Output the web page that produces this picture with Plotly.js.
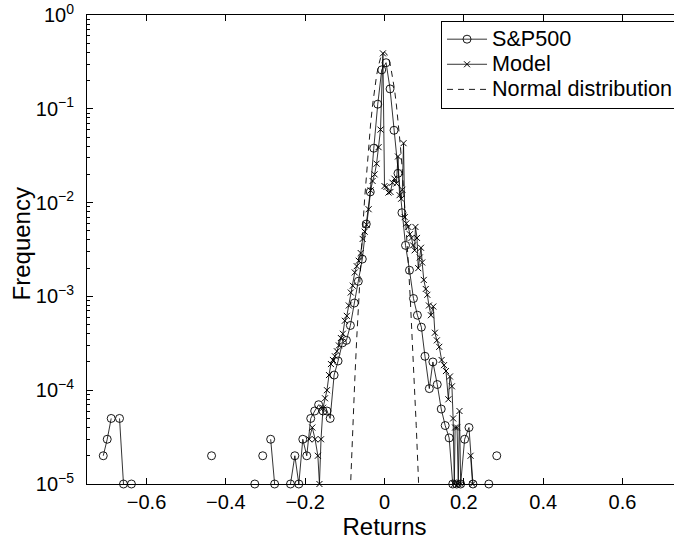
<!DOCTYPE html>
<html>
<head>
<meta charset="utf-8">
<script src="https://cdn.plot.ly/plotly-3.0.1.min.js"></script>
<style>
html,body{margin:0;padding:0;overflow:hidden;width:674px;height:540px;background:#fff;}
#chart{width:700px;height:540px;}
</style>
</head>
<body>
<div id="chart"></div>
<script>
// S&P500 empirical return frequencies (null = empty bin, breaks the line on log axis)
const spX = [-0.709, -0.699, -0.689, null, -0.668, -0.658, null, -0.638, null, -0.436, null, -0.327, null, -0.307, null, -0.287, -0.277, null,
  -0.237, -0.226, -0.216, -0.206, -0.196, -0.186, -0.176, -0.166, -0.155, -0.145, -0.137, -0.127, -0.117, -0.106, -0.096, -0.086, -0.076,
  -0.066, -0.056, -0.046, -0.036, -0.027, -0.017, -0.007, 0.004, 0.014, 0.024, 0.034, 0.044, 0.053, 0.063, 0.073, 0.083, 0.093, 0.102,
  0.113, 0.122, 0.133, 0.143, 0.153, 0.163, 0.172, 0.182, 0.192, 0.202, 0.213, 0.223, null, 0.263, null, 0.283];
const spY = [2e-5, 3e-5, 5e-5, null, 5e-5, 1e-5, null, 1e-5, null, 2e-5, null, 1e-5, null, 2e-5, null, 3e-5, 1e-5, null,
  1e-5, 2e-5, 1e-5, 3e-5, 2e-5, 5e-5, 6e-5, 7e-5, 6e-5, 6e-5, 5e-5, 1.45e-4, 2.05e-4, 3.2e-4, 3.4e-4, 4.9e-4, 8.5e-4,
  1.45e-3, 2.5e-3, 5.9e-3, 0.013, 0.038, 0.112, 0.26, 0.31, 0.163, 0.059, 0.0205, 7.8e-3, 3.5e-3, 1.9e-3, 9.5e-4, 6.3e-4, 4.7e-4, 2.3e-4,
  1.04e-4, 2.0e-4, 1.15e-4, 6.3e-5, 4.2e-5, 3.1e-5, 1e-5, 1e-5, 1e-5, 3e-5, 4e-5, 1e-5, null, 1e-5, null, 2e-5];

// Model frequencies
const modelX = [-0.190, -0.182, -0.175, -0.168, -0.164, -0.160, -0.155, -0.150, -0.145, -0.140, -0.135, -0.130, -0.125, -0.120, -0.115,
  -0.110, -0.105, -0.100, -0.095, -0.090, -0.085, -0.080, -0.075, -0.070, -0.065, -0.060, -0.055, -0.050, -0.045, -0.040, -0.035,
  -0.030, -0.025, -0.020, -0.015, -0.010, -0.004, 0.000, 0.005, 0.010, 0.015, 0.020, 0.025, 0.030, 0.034, 0.038, 0.042, 0.045, 0.048,
  0.051, 0.055, 0.060, 0.064, 0.068, 0.072, 0.076, 0.078, 0.082, 0.085, 0.089, 0.092, 0.095, 0.099, 0.104, 0.108, 0.112, 0.117,
  0.123, 0.127, 0.132, 0.138, 0.144, 0.150, 0.155, 0.161, 0.165, 0.170, 0.173, 0.176, 0.178, 0.183, 0.186, 0.189, 0.192, null, 0.217, 0.222];
const modelY = [3e-5, 4e-5, 3e-5, 2e-5, 1e-5, 3e-5, 6.5e-5, 8.2e-5, 1.0e-4, 1.45e-4, 1.9e-4, 2.1e-4, 2.3e-4, 2.6e-4, 3.0e-4,
  3.6e-4, 4.0e-4, 5.5e-4, 6.2e-4, 8.0e-4, 1.1e-3, 1.3e-3, 1.8e-3, 2.1e-3, 2.4e-3, 2.9e-3, 4.1e-3, 4.9e-3, 5.8e-3, 8.5e-3, 0.0135,
  0.017, 0.020, 0.026, 0.039, 0.060, 0.39, 0.015, 0.0147, 0.0128, 0.013, 0.0163, 0.018, 0.016, 0.031, 0.012, 0.011, 0.0137, 0.043,
  7.0e-3, 6.0e-3, 5.5e-3, 4.6e-3, 4.2e-3, 3.5e-3, 3.1e-3, 5.5e-3, 4.2e-3, 2.0e-3, 2.6e-3, 3.3e-3, 2.3e-3, 1.5e-3, 1.2e-3, 1.04e-3, 8.0e-4, 6.3e-4,
  7.8e-4, 4.1e-4, 3.4e-4, 2.9e-4, 2.1e-4, 1.85e-4, 1.6e-4, 8.0e-5, 1.4e-4, 1.1e-4, 5.0e-5, 1.0e-5, 4.0e-5, 4.0e-5, 1.0e-5, 6.0e-5, 1.0e-5, null, 2e-5, 1e-5];

// Normal distribution reference curve
const normX = [-0.095, -0.090, -0.085, -0.080, -0.075, -0.070, -0.065, -0.060, -0.055, -0.050, -0.045, -0.040, -0.035, -0.030, -0.025,
  -0.020, -0.015, -0.010, -0.005, 0.000, 0.005, 0.010, 0.015, 0.020, 0.025, 0.030, 0.035, 0.040, 0.045, 0.050, 0.055, 0.060, 0.065,
  0.070, 0.075, 0.080, 0.085, 0.090, 0.095];
const normY = [9.7e-7, 3.6e-6, 1.28e-5, 4.2e-5, 1.26e-4, 3.57e-4, 9.4e-4, 2.3e-3, 5.25e-3, 0.0111, 0.022, 0.0404, 0.0691, 0.110, 0.163,
  0.226, 0.290, 0.347, 0.386, 0.400, 0.386, 0.347, 0.290, 0.226, 0.163, 0.110, 0.0691, 0.0404, 0.022, 0.0111, 5.25e-3, 2.3e-3, 9.4e-4,
  3.57e-4, 1.26e-4, 4.2e-5, 1.28e-5, 3.6e-6, 9.7e-7];

// Series names and axis ticks
const seriesNames = ['S&amp;P500', 'Model', 'Normal distribution'];
const xTickVals = [-0.6, -0.4, -0.2, 0, 0.2, 0.4, 0.6];
const xTickText = ['\u22120.6', '\u22120.4', '\u22120.2', '0', '0.2', '0.4', '0.6'];
const yTickVals = [1e-5, 1e-4, 1e-3, 1e-2, 1e-1, 1];
const yTickText = ['10<sup>\u22125</sup>', '10<sup>\u22124</sup>', '10<sup>\u22123</sup>', '10<sup>\u22122</sup>', '10<sup>\u22121</sup>', '10<sup>0</sup>'];

const yMinor = [];
for (let e = -5; e < 0; e++) for (let m = 2; m <= 9; m++) yMinor.push(m * Math.pow(10, e));

const FONT = 'Liberation Sans, Arial, Helvetica, sans-serif';
const big = s => '<span style="font-size:21.6px">' + s + '</span>';

const traces = [
  {
    x: spX, y: spY, name: big(seriesNames[0]), type: 'scatter', mode: 'lines+markers',
    line: {color: 'black', width: 0.8},
    marker: {symbol: 'circle-open', size: 8, color: 'black', line: {width: 0.9, color: 'black'}},
    connectgaps: false, cliponaxis: false
  },
  {
    x: modelX, y: modelY, name: big(seriesNames[1]), type: 'scatter', mode: 'lines+markers',
    line: {color: 'black', width: 0.8},
    marker: {symbol: 'x-thin', size: 6, color: 'black', line: {width: 1, color: 'black'}},
    connectgaps: false, cliponaxis: false
  },
  {
    x: normX, y: normY, name: big(seriesNames[2]), type: 'scatter', mode: 'lines',
    line: {color: 'black', width: 0.9, dash: '6px,5px'}
  }
];

const layout = {
  width: 700, height: 540,
  margin: {l: 87, r: 18, t: 15, b: 56, pad: 0},
  paper_bgcolor: 'white', plot_bgcolor: 'white',
  font: {family: FONT, size: 20, color: 'black'},
  showlegend: true,
  legend: {
    x: 0.595, y: 0.988, xanchor: 'left', yanchor: 'top',
    bgcolor: 'white', bordercolor: 'black', borderwidth: 1,
    font: {family: FONT, size: 17, color: 'black'},
    itemwidth: 40,
    tracegroupgap: 0
  },
  annotations: [{
    text: 'Frequency', textangle: -90, showarrow: false,
    xref: 'paper', yref: 'paper', x: -0.11, y: 0.512, xanchor: 'center', yanchor: 'middle',
    font: {family: FONT, size: 24, color: 'black'}
  }],
  xaxis: {
    range: [-0.75, 0.75], tickmode: 'array', tickvals: xTickVals, ticktext: xTickText,
    ticks: 'inside', ticklen: 6, tickwidth: 1, tickcolor: 'black',
    showline: true, linecolor: 'black', linewidth: 1, mirror: 'ticks',
    showgrid: false, zeroline: false,
    tickfont: {family: FONT, size: 20, color: 'black'},
    title: {text: 'Returns', font: {family: FONT, size: 24, color: 'black'}, standoff: 2},
    automargin: false
  },
  yaxis: {
    type: 'log', range: [-5, 0], tickmode: 'array', tickvals: yTickVals, ticktext: yTickText,
    ticks: 'inside', ticklen: 6, tickwidth: 1, tickcolor: 'black',
    minor: {ticks: 'inside', ticklen: 3, tickwidth: 1, tickcolor: 'black', tickmode: 'array', tickvals: yMinor, showgrid: false},
    showline: true, linecolor: 'black', linewidth: 1, mirror: 'ticks',
    showgrid: false, zeroline: false,
    tickfont: {family: FONT, size: 20, color: 'black'},
    ticklabelstandoff: 8,
    automargin: false
  }
};

Plotly.newPlot('chart', traces, layout, {displayModeBar: false, staticPlot: true});
</script>
</body>
</html>
